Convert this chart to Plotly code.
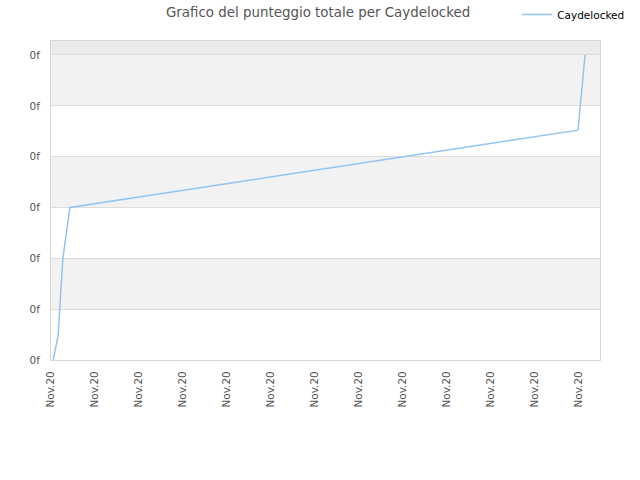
import plotly.graph_objects as go

# punteggio totale per Caydelocked (x = posizione nel tempo, y = punteggio)
giorni = [0.05, 0.16, 0.27, 0.43, 11.98, 12.14]
punteggio = [0.0, 0.47, 2.0, 3.0, 4.52, 6.0]
tick_pos = list(range(0, 13))
tick_lab = ["Nov.20"] * 13
y_ticks = list(range(0, 7))
y_labels = ["0f"] * 7

fig = go.Figure()

# bande alternate di sfondo
for k in range(1, 6, 2):
    fig.add_shape(type="rect", xref="paper", yref="y", x0=0, x1=1, y0=k, y1=k + 1,
                  fillcolor="#f2f2f2", line_width=0, layer="below")
fig.add_shape(type="rect", xref="paper", yref="y", x0=0, x1=1, y0=6, y1=7,
              fillcolor="#ebebeb", line_width=0, layer="below")

fig.add_trace(go.Scatter(x=giorni, y=punteggio, mode="lines", name="Caydelocked",
                         line=dict(color="#92c4f2", width=1.5)))

fig.update_layout(
    width=640, height=480,
    margin=dict(l=51, r=40, t=41, b=120, autoexpand=False),
    paper_bgcolor="white", plot_bgcolor="white",
    font=dict(family="DejaVu Sans", size=10.5, color="#555555"),
    title=dict(text="Grafico del punteggio totale per Caydelocked", x=0.497, xanchor="center",
               y=0.975, yanchor="middle", font=dict(size=13.4, color="#555555")),
    showlegend=True,
    legend=dict(x=1.055, xanchor="right", y=1.0, yref="container", yanchor="top",
                font=dict(size=10.5, color="#000000"), bgcolor="rgba(0,0,0,0)"),
)
fig.update_xaxes(range=[0, 12.48], tickvals=tick_pos, ticktext=tick_lab, tickangle=-90,
                 showgrid=False, zeroline=False, showline=True, linecolor="#d8d8d8",
                 mirror=True, ticks="", ticklabelstandoff=6,
                 tickfont=dict(size=10.5, color="#555555"))
fig.update_yaxes(range=[0, 6.275], tickvals=y_ticks, ticktext=y_labels,
                 showgrid=True, gridcolor="#dddddd", zeroline=False, showline=True,
                 linecolor="#d8d8d8", mirror=True, ticks="", ticklabelstandoff=8,
                 tickfont=dict(size=10.5, color="#555555"))

fig.write_html("out.html", config={"displayModeBar": False},
               post_script="document.body.style.margin='0';")
